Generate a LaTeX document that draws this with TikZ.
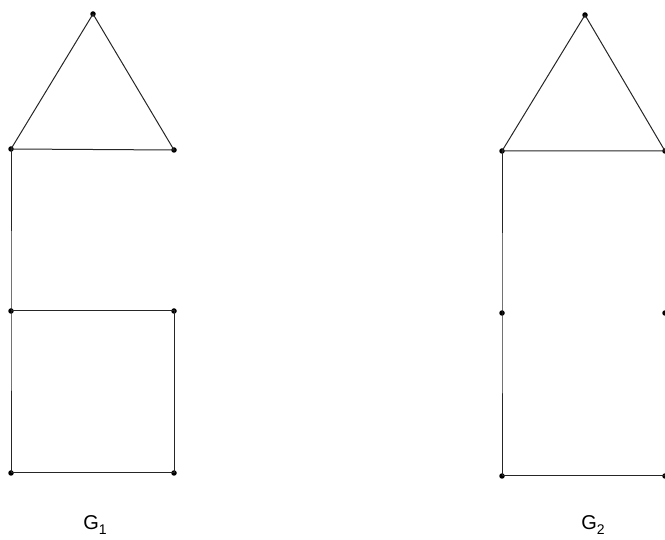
\documentclass[tikz,border=0pt]{standalone}
\usepackage{fontspec}
\setmainfont{Liberation Sans}
\newcommand{\subnum}[1]{\raisebox{-0.22em}{\fontsize{14}{16}\selectfont #1}}
\begin{document}
\begin{tikzpicture}[x=1pt,y=-1pt,
  vtx/.style={circle,fill=black,inner sep=0pt,minimum size=5.5pt},
  edge/.style={draw=black!85,line width=1pt},
  lbl/.style={font=\fontsize{20}{24}\selectfont,inner sep=0pt}]
\useasboundingbox (0,0) rectangle (665,540);
% G1
\node[vtx] (a1) at (93,14) {};
\node[vtx] (b1) at (11,149) {};
\node[vtx] (c1) at (174,150) {};
\node[vtx] (d1) at (11,311) {};
\node[vtx] (e1) at (174,311) {};
\node[vtx] (f1) at (11,473) {};
\node[vtx] (g1) at (174,473) {};
\draw[edge] (a1.center) -- (b1.center) -- (c1.center) -- (a1.center);
\draw[edge] (b1.center) -- (d1.center) -- (f1.center) -- (g1.center) -- (e1.center) -- (d1.center);
\node[lbl] (l1) at (95,525) {G\subnum{1}};
% G2
\node[vtx] (a2) at (585,15) {};
\node[vtx] (b2) at (502,151) {};
\node[vtx] (c2) at (665,151) {};
\node[vtx] (d2) at (502,313) {};
\node[vtx] (e2) at (665,313) {};
\node[vtx] (f2) at (502,476) {};
\node[vtx] (g2) at (665,476) {};
\draw[edge] (a2.center) -- (b2.center) -- (c2.center) -- (a2.center);
\draw[edge] (b2.center) -- (d2.center) -- (f2.center) -- (g2.center) -- (e2.center) -- (c2.center);
\node[lbl] (l2) at (593,525) {G\subnum{2}};
\end{tikzpicture}
\end{document}
